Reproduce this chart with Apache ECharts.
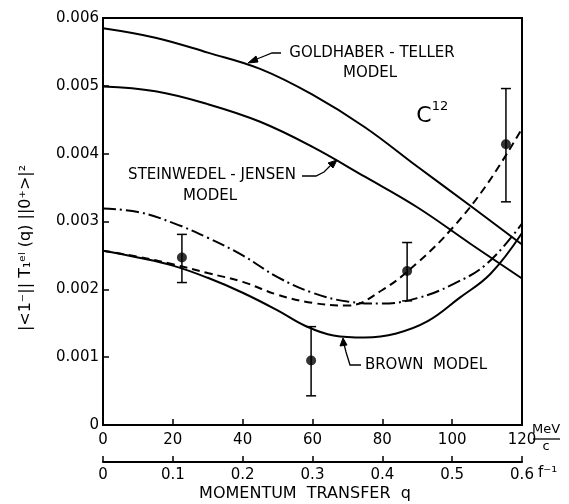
<!DOCTYPE html>
<html><head><meta charset="utf-8">
<script src="https://cdn.jsdelivr.net/npm/echarts@6/dist/echarts.min.js"></script>
<style>html,body{margin:0;padding:0;background:#fff}#c{width:569px;height:504px}</style>
</head><body><div id="c"></div>
<script>
// ---- data ----
const gtX = [0, 15, 30, 45, 60, 75, 90, 105, 120];
const gtY = [0.00585, 0.00571, 0.00549, 0.00525, 0.00487, 0.00439, 0.00381, 0.00324, 0.00266];

const sjX = [0, 15, 30, 45, 60, 75, 90, 105, 120];
const sjY = [0.00499, 0.00492, 0.00473, 0.00447, 0.00410, 0.00366, 0.00321, 0.00268, 0.00216];

const brownX = [0, 10, 20, 30, 40, 50, 58, 66, 75, 84, 93, 102, 111, 120];
const brownY = [0.00257, 0.00247, 0.00235, 0.00217, 0.00195, 0.00169, 0.00146, 0.00132, 0.00129, 0.00135, 0.00153, 0.00187, 0.00223, 0.00283];

const dashDotX = [0, 10, 20, 30, 40, 50, 60, 70, 80, 90, 100, 110, 120];
const dashDotY = [0.00319, 0.00314, 0.00298, 0.00276, 0.00250, 0.00218, 0.00195, 0.00182, 0.00179, 0.00187, 0.00207, 0.00238, 0.00297];

const dashedX = [0, 10, 20, 30, 40, 50, 60, 70, 80, 90, 100, 110, 120];
const dashedY = [0.00257, 0.00248, 0.00237, 0.00224, 0.00211, 0.00192, 0.00180, 0.00176, 0.00199, 0.00239, 0.00290, 0.00355, 0.00437];

const expX = [22.6, 59.6, 87.1, 115.4];
const expY = [0.00247, 0.00095, 0.00227, 0.00414];
const expLo = [0.00210, 0.00043, 0.00183, 0.00329];
const expHi = [0.00281, 0.00145, 0.00269, 0.00496];

const yTickLabels = ['0', '0.001', '0.002', '0.003', '0.004', '0.005', '0.006'];
const fTickLabels = ['0', '0.1', '0.2', '0.3', '0.4', '0.5', '0.6'];

// ---- chart ----
const FONT = 'DejaVu Sans';
const pair = (xs, ys) => xs.map((x, i) => [x, ys[i]]);
const chart = echarts.init(document.getElementById('c'), null, {renderer: 'canvas'});

function lineSeries(xs, ys, type) {
  return {
    type: 'line', xAxisIndex: 0, yAxisIndex: 0,
    data: pair(xs, ys), smooth: 0.4,
    showSymbol: false, symbol: 'none', silent: true,
    lineStyle: {color: '#000', width: 2, type: type},
    z: 3
  };
}

const txt = (text, x, y, size, align) => ({
  type: 'text', x: x, y: y, silent: true,
  style: {text: text, font: size + 'px "' + FONT + '"', fill: '#000',
          textAlign: align || 'center', textVerticalAlign: 'middle'}
});
const pl = (pts) => ({
  type: 'polyline', silent: true, shape: {points: pts},
  style: {stroke: '#000', lineWidth: 1.3, fill: null}
});
const head = (pts) => ({
  type: 'polygon', silent: true, shape: {points: pts},
  style: {fill: '#000', stroke: '#000', lineWidth: 1}
});

const option = {
  animation: false,
  backgroundColor: '#fff',
  grid: [
    {left: 103, top: 18, width: 419, height: 407, show: true, borderColor: '#000', borderWidth: 2, backgroundColor: 'transparent'},
    {left: 103, top: 461, width: 419, height: 1, show: false}
  ],
  xAxis: [
    {gridIndex: 0, type: 'value', min: 0, max: 120, interval: 20,
     axisLine: {show: true, lineStyle: {color: '#000', width: 2}},
     axisTick: {show: true, inside: true, length: 6, lineStyle: {color: '#000', width: 1.5}},
     splitLine: {show: false},
     axisLabel: {color: '#000', fontFamily: FONT, fontSize: 15, margin: 8}},
    {gridIndex: 1, type: 'value', min: 0, max: 0.6, interval: 0.1, position: 'bottom',
     axisLine: {show: true, onZero: false, lineStyle: {color: '#000', width: 2}},
     axisTick: {show: true, inside: true, length: 6, lineStyle: {color: '#000', width: 1.5}},
     splitLine: {show: false},
     axisLabel: {color: '#000', fontFamily: FONT, fontSize: 15, margin: 6,
       formatter: (v) => fTickLabels[Math.round(v * 10)]}}
  ],
  yAxis: [
    {gridIndex: 0, type: 'value', min: 0, max: 0.006, interval: 0.001,
     axisLine: {show: true, lineStyle: {color: '#000', width: 2}},
     axisTick: {show: true, inside: true, length: 6, lineStyle: {color: '#000', width: 1.5}},
     splitLine: {show: false},
     axisLabel: {color: '#000', fontFamily: FONT, fontSize: 15, margin: 4,
       formatter: (v) => yTickLabels[Math.round(v * 1000)]}},
    {gridIndex: 1, type: 'value', show: false, min: 0, max: 1}
  ],
  series: [
    lineSeries(gtX, gtY, 'solid'),
    lineSeries(sjX, sjY, 'solid'),
    lineSeries(brownX, brownY, 'solid'),
    lineSeries(dashDotX, dashDotY, [13, 4, 2, 4]),
    lineSeries(dashedX, dashedY, [8, 5]),
    {
      type: 'custom', xAxisIndex: 0, yAxisIndex: 0, silent: true, z: 4,
      data: expX.map((x, i) => [x, expLo[i], expHi[i]]),
      encode: {x: 0, y: [1, 2]},
      renderItem: function (params, api) {
        const x = api.value(0);
        const pLo = api.coord([x, api.value(1)]);
        const pHi = api.coord([x, api.value(2)]);
        const w = 5;
        const st = {stroke: '#000', lineWidth: 1.5};
        return {type: 'group', children: [
          {type: 'line', shape: {x1: pLo[0], y1: pLo[1], x2: pHi[0], y2: pHi[1]}, style: st},
          {type: 'line', shape: {x1: pLo[0] - w, y1: pLo[1], x2: pLo[0] + w, y2: pLo[1]}, style: st},
          {type: 'line', shape: {x1: pHi[0] - w, y1: pHi[1], x2: pHi[0] + w, y2: pHi[1]}, style: st}
        ]};
      }
    },
    {
      type: 'scatter', xAxisIndex: 0, yAxisIndex: 0, silent: true, z: 5,
      data: pair(expX, expY), symbol: 'circle', symbolSize: 10,
      itemStyle: {color: '#000'}
    }
  ],
  graphic: [
    // y axis title
    {type: 'text', x: 26, y: 248, rotation: Math.PI / 2, silent: true,
     style: {text: '|<1\u207B|| T\u2081\u1D49\u02E1 (q) ||0\u207A>|\u00B2', font: '16px "' + FONT + '"',
             fill: '#000', textAlign: 'center', textVerticalAlign: 'middle'}},
    // x axis units and title
    txt('MeV', 546, 430, 13),
    {type: 'line', silent: true, shape: {x1: 533, y1: 439, x2: 560, y2: 439}, style: {stroke: '#000', lineWidth: 1.3}},
    txt('c', 546, 447, 13),
    txt('f\u207B\u00B9', 538, 473, 15, 'left'),
    txt('MOMENTUM  TRANSFER  q', 305, 494, 16),
    // Goldhaber-Teller annotation
    txt('GOLDHABER - TELLER', 372, 53, 15),
    txt('MODEL', 370, 73, 15),
    pl([[281, 53], [272, 53], [262, 57], [254, 60]]),
    head([[248, 63], [256, 56], [258, 62]]),
    // Steinwedel-Jensen annotation
    txt('STEINWEDEL - JENSEN', 212, 175, 15),
    txt('MODEL', 210, 196, 15),
    pl([[302, 176], [316, 176], [324, 172], [332, 164]]),
    head([[337, 160], [328, 163], [333, 168]]),
    // Brown annotation
    txt('BROWN  MODEL', 426, 365, 15),
    pl([[361, 365], [350, 365], [346, 352], [344, 344]]),
    head([[343, 338], [340, 346], [347, 345]]),
    // C12
    txt('C', 424, 116, 22),
    txt('12', 440, 107, 13)
  ]
};
chart.setOption(option);
</script>
</body></html>
